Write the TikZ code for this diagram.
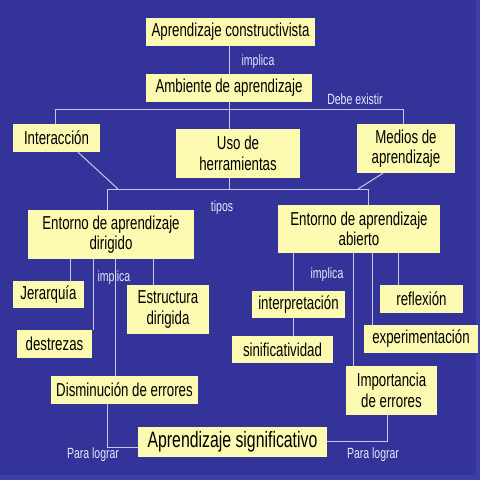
\documentclass[tikz,border=0pt]{standalone}
\usepackage{fontspec}
\setmainfont[FakeStretch=0.71]{Liberation Sans}
\definecolor{bg}{RGB}{51,51,153}
\definecolor{bgedge}{RGB}{62,62,168}
\definecolor{boxfill}{RGB}{252,250,176}
\definecolor{ln}{RGB}{200,200,230}
\definecolor{lbl}{RGB}{232,232,250}
\tikzset{
  box/.style={fill=boxfill, draw=none, inner sep=0pt, align=center, text=black,
    font=\fontsize{18.7}{20.5}\selectfont},
  bigbox/.style={box, font=\fontsize{22.3}{24}\selectfont},
  lbl/.style={text=lbl, font=\fontsize{14.8}{16}\selectfont, inner sep=0pt},
  conn/.style={draw=ln, line width=1pt}
}
\begin{document}
\begin{tikzpicture}[x=1pt,y=-1pt]
\useasboundingbox (0,0) rectangle (480,480);
\fill[bg] (0,0) rectangle (480,480);
\fill[bgedge] (0,475) rectangle (480,480);
\fill[bgedge] (476,0) rectangle (480,480);

% boxes
\node[box, minimum width=169pt, minimum height=28pt] (AC) at (230.5,32) {Aprendizaje constructivista};
\node[box, minimum width=166pt, minimum height=28pt] (AA) at (229,88) {Ambiente de aprendizaje};
\node[box, minimum width=87pt, minimum height=28pt] (INT) at (56.5,138) {Interacción};
\node[box, minimum width=124pt, minimum height=49pt] (USO) at (238,153.5) {Uso de\\herramientas};
\node[box, minimum width=98pt, minimum height=49pt] (MED) at (406,148.5) {Medios de\\aprendizaje};
\node[box, minimum width=166pt, minimum height=49pt] (ED) at (111,234.5) {Entorno de aprendizaje\\dirigido};
\node[box, minimum width=162pt, minimum height=48pt] (EA) at (359,229) {Entorno de aprendizaje\\abierto};
\node[box, minimum width=71pt, minimum height=27pt] (JER) at (48.5,294.5) {Jerarquía};
\node[box, minimum width=82pt, minimum height=49pt] (EST) at (168,309.5) {Estructura\\dirigida};
\node[box, minimum width=75pt, minimum height=28pt] (DES) at (54.5,344) {destrezas};
\node[box, minimum width=147pt, minimum height=28pt] (DIS) at (124.5,390) {Disminución de errores};
\node[box, minimum width=93pt, minimum height=27pt] (INP) at (298.5,304.5) {interpretación};
\node[box, minimum width=83pt, minimum height=28pt] (REF) at (421.5,299) {reflexión};
\node[box, minimum width=101pt, minimum height=27pt] (SIN) at (282.5,349.5) {sinificatividad};
\node[box, minimum width=114pt, minimum height=28pt] (EXP) at (421,339) {experimentación};
\node[box, minimum width=91pt, minimum height=49pt] (IMP) at (391.5,390.5) {Importancia\\de errores};
\node[bigbox, minimum width=189pt, minimum height=30pt] (AS) at (232.5,442) {Aprendizaje significativo};

% junction coordinates
\coordinate (t1) at (229,109);
\coordinate (tL) at (55,109);
\coordinate (tR) at (403,109);
\coordinate (b1) at (229,189);
\coordinate (bL) at (107,189);
\coordinate (bR) at (368,189);
\coordinate (dL) at (118,189);
\coordinate (dR) at (358,189);
\coordinate (pL) at (107,447);
\coordinate (pR) at (387,441);

% connectors
\draw[conn] (AA.north) -- (AA.north |- AC.south);
\draw[conn] (AA.south) -- (t1);
\draw[conn] (tL) -- (tR);
\draw[conn] (tL) -- (tL |- INT.north);
\draw[conn] (tR) -- (tR |- MED.north);
\draw[conn] (t1) -- (t1 |- USO.north);
\draw[conn] (b1 |- USO.south) -- (b1);
\draw[conn] (INT.south -| 78,0) -- (dL);
\draw[conn] (MED.south -| 383,0) -- (dR);
\draw[conn] (bL) -- (bR);
\draw[conn] (bL) -- (bL |- ED.north);
\draw[conn] (bR) -- (bR |- EA.north);

\draw[conn] (ED.south -| 70,0) -- (JER.north -| 70,0);
\draw[conn] (ED.south -| 93,0) -- (DES.north -| 93,0);
\draw[conn] (ED.south -| 115,0) -- (DIS.north -| 115,0);
\draw[conn] (ED.south -| 153,0) -- (EST.north -| 153,0);

\draw[conn] (EA.south -| 293,0) -- (INP.north -| 293,0);
\draw[conn] (INP.south -| 293,0) -- (SIN.north -| 293,0);
\draw[conn] (EA.south -| 353,0) -- (IMP.north -| 353,0);
\draw[conn] (EA.south -| 372,0) -- (EXP.north -| 372,0);
\draw[conn] (EA.south -| 398,0) -- (REF.north -| 398,0);

\draw[conn] (DIS.south -| pL) -- (pL) -- (AS.west |- pL);
\draw[conn] (AS.east |- pR) -- (pR) -- (IMP.south -| pR);

% labels
\node[lbl] (l1) at (258,62) {implica};
\node[lbl] (l2) at (355,99) {Debe existir};
\node[lbl] (l3) at (222,208) {tipos};
\node[lbl] (l4) at (114,278) {implica};
\node[lbl] (l5) at (327,275) {implica};
\node[lbl] (l6) at (93,455) {Para lograr};
\node[lbl] (l7) at (373,455) {Para lograr};
\end{tikzpicture}
\end{document}
